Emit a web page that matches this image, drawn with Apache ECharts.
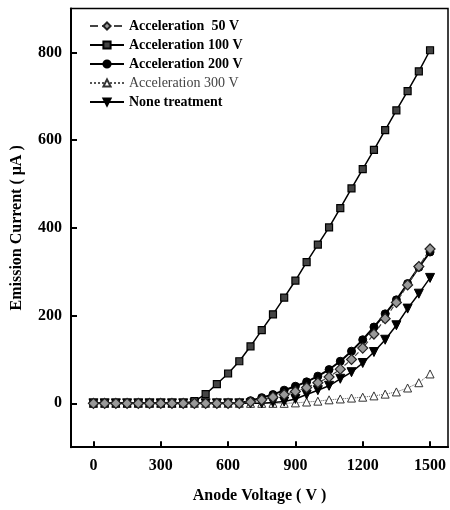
<!DOCTYPE html>
<html>
<head>
<meta charset="utf-8">
<script src="https://cdn.jsdelivr.net/npm/echarts@6/dist/echarts.min.js"></script>
<style>html,body{margin:0;padding:0;background:#fff}#c{width:450px;height:510px}</style>
</head>
<body>
<div id="c"></div>
<script>
const voltages = [0,50,100,150,200,250,300,350,400,450,500,550,600,650,700,750,800,850,900,950,1000,1050,1100,1150,1200,1250,1300,1350,1400,1450,1500];
const seriesNames = ['Acceleration  50 V','Acceleration 100 V','Acceleration 200 V','Acceleration 300 V','None treatment'];
const acc50 = [0,0,0,0,0,0,0,0,0,0,0,0,0,0,3,8,14,20,27,36,47,60,78,100,126,158,193,230,270,312,352];
const acc100 = [0,0,0,0,0,0,0,0,0,5,21,44,68,96,130,167,203,241,280,322,362,401,445,490,534,578,623,668,712,757,805];
const acc200 = [0,0,0,0,0,0,0,0,0,0,0,0,0,0,6,13,20,30,39,49,62,77,96,119,145,174,204,236,273,310,345];
const acc300 = [0,0,0,0,0,0,0,0,0,0,0,0,0,0,0,0,0,0,1,3,5,8,10,12,14,17,21,26,35,47,67];
const noneTreat = [0,0,0,0,0,0,0,0,0,0,0,0,0,0,0,0,2,4,10,20,30,40,56,71,92,117,145,178,216,250,286];
const xTicks = [0,300,600,900,1200,1500];
const yTicks = [0,200,400,600,800];

const pair = arr => voltages.map((v,i)=>[v,arr[i]]);
const font = 'Liberation Serif';
const chart = echarts.init(document.getElementById('c'));
chart.setOption({
  animation:false,
  backgroundColor:'#fff',
  grid:{left:71,right:2,top:8.6,bottom:62.8,show:true,borderColor:'#000',borderWidth:1.5,backgroundColor:'transparent'},
  legend:{
    left:84,top:14,orient:'vertical',itemWidth:34,itemHeight:9,itemGap:5,
    textStyle:{fontFamily:font,fontWeight:'bold',fontSize:14,color:'#000'},
    data:[
      {name:seriesNames[0]},
      {name:seriesNames[1]},
      {name:seriesNames[2]},
      {name:seriesNames[3],textStyle:{fontWeight:'normal',color:'#444'}},
      {name:seriesNames[4]}
    ]
  },
  xAxis:{
    type:'value',min:-100,max:1580,
    name:'Anode Voltage ( V )',nameLocation:'middle',nameGap:41,
    nameTextStyle:{fontFamily:font,fontWeight:'bold',fontSize:16,color:'#000'},
    axisLine:{onZero:false,lineStyle:{color:'#000',width:2}},
    axisTick:{inside:true,length:6,lineStyle:{width:2,color:'#000'},customValues:xTicks},
    axisLabel:{fontFamily:font,fontWeight:'bold',fontSize:16,color:'#000',margin:11,customValues:xTicks,formatter:v=>String(v)},
    splitLine:{show:false}
  },
  yAxis:{
    type:'value',min:-100,max:900,
    name:'Emission Current ( μA )',nameLocation:'middle',nameGap:46,nameRotate:90,
    nameTextStyle:{fontFamily:font,fontWeight:'bold',fontSize:16,color:'#000'},
    axisLine:{onZero:false,lineStyle:{color:'#000',width:2}},
    axisTick:{inside:true,length:6,lineStyle:{width:2,color:'#000'},customValues:yTicks},
    axisLabel:{fontFamily:font,fontWeight:'bold',fontSize:16,color:'#000',margin:9,customValues:yTicks,formatter:v=>String(v)},
    splitLine:{show:false}
  },
  series:[
    {name:seriesNames[3],type:'line',data:pair(acc300),symbol:'triangle',symbolSize:8,
     lineStyle:{color:'#555',width:1,type:'dotted'},itemStyle:{color:'#fff',borderColor:'#333',borderWidth:1}},
    {name:seriesNames[4],type:'line',data:pair(noneTreat),symbol:'triangle',symbolRotate:180,symbolSize:9,
     lineStyle:{color:'#000',width:1.5},itemStyle:{color:'#000',borderColor:'#000',borderWidth:1}},
    {name:seriesNames[2],type:'line',data:pair(acc200),symbol:'circle',symbolSize:8,
     lineStyle:{color:'#000',width:2},itemStyle:{color:'#000',borderColor:'#000',borderWidth:1}},
    {name:seriesNames[1],type:'line',data:pair(acc100),symbol:'rect',symbolSize:7,
     lineStyle:{color:'#000',width:1.5},itemStyle:{color:'#444',borderColor:'#000',borderWidth:1.2}},
    {name:seriesNames[0],type:'line',data:pair(acc50),symbol:'diamond',symbolSize:10,
     lineStyle:{color:'#444',width:1.2,type:'dashed'},itemStyle:{color:'#999',borderColor:'#222',borderWidth:1.2}}
  ]
});
</script>
</body>
</html>
